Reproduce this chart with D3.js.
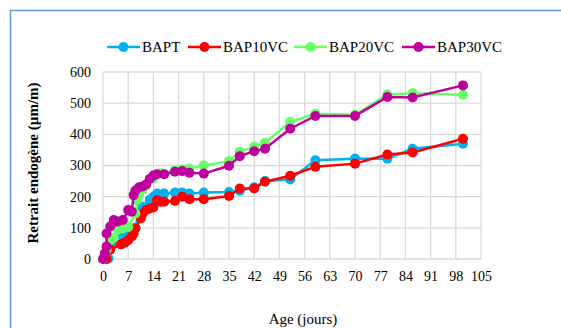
<!DOCTYPE html>
<html>
<head>
<meta charset="utf-8">
<script src="https://cdn.jsdelivr.net/npm/d3@7"></script>
<style>
  body { margin: 0; background: #fff; }
  svg { font-family: "Liberation Serif", "Times New Roman", serif; }
</style>
</head>
<body>
<svg id="chart"></svg>
<script>
const width = 561;
const height = 328;

const seriesNames = ['BAPT', 'BAP10VC', 'BAP20VC', 'BAP30VC'];
const seriesColors = ['#00b0f0', '#ff0000', '#66ff66', '#c0009c'];

const xTicks = [0, 7, 14, 21, 28, 35, 42, 49, 56, 63, 70, 77, 84, 91, 98, 105];
const yTicks = [0, 100, 200, 300, 400, 500, 600];

// [age en jours, retrait µm/m]
const bapt = [[1, 0], [1.5, 2], [3, 50], [5, 78], [7, 88], [8, 92], [9, 100], [10, 150], [11, 168],
  [13, 190], [14, 200], [15, 210], [17, 210], [20, 213], [22, 213], [24, 210], [28, 213],
  [35, 215], [38, 219], [42, 230], [45, 250], [52, 255], [59, 317], [70, 322], [79, 322],
  [86, 354], [100, 370]];
const bap10vc = [[1, 0], [2, 30], [5, 47], [6, 52], [7, 60], [8, 72], [8.5, 82], [9, 98], [10.5, 130],
  [11, 146], [12, 157], [13, 162], [14, 165], [15, 189], [16, 184], [17, 184], [20, 186],
  [22, 200], [24, 192], [28, 192], [35, 202], [38, 226], [42, 226], [45, 248], [52, 267],
  [59, 296], [70, 306], [79, 335], [86, 342], [100, 386]];
const bap20vc = [[0, 0], [1, 30], [2, 60], [3, 68], [4, 93], [5.5, 98], [7, 103], [9, 146], [9.5, 189],
  [10, 205], [11, 222], [12, 235], [14, 258], [16, 275], [20, 285], [22, 288], [24, 290],
  [28, 300], [35, 314], [38, 344], [42, 360], [45, 373], [52, 440], [59, 466], [70, 463],
  [79, 528], [86, 532], [100, 527]];
const bap30vc = [[0, 0], [0.5, 18], [1, 40], [1, 82], [2, 104], [3, 125], [4, 120], [5.5, 125],
  [7, 157], [8, 152], [8.5, 205], [9, 220], [10, 230], [11, 233], [12, 240], [13, 257],
  [14, 268], [15, 272], [17, 272], [20, 280], [22, 282], [24, 277], [28, 274], [35, 299],
  [38, 330], [42, 346], [45, 354], [52, 418], [59, 459], [70, 459], [79, 520], [86, 518],
  [100, 557]];

const allSeries = [bapt, bap10vc, bap20vc, bap30vc];

const svg = d3.select('#chart').attr('width', width).attr('height', height);

// cadre bleu
svg.append('rect')
  .attr('x', 10.5).attr('y', 10.5)
  .attr('width', width + 20).attr('height', height + 20)
  .attr('fill', 'none').attr('stroke', '#5b9bd5').attr('stroke-width', 1.5);

const x = d3.scaleLinear().domain([0, 105]).range([103, 481]);
const y = d3.scaleLinear().domain([0, 600]).range([259, 72]);

// grille
const grid = svg.append('g');
grid.selectAll('.vx').data(xTicks).enter().append('line')
  .attr('x1', d => x(d)).attr('x2', d => x(d))
  .attr('y1', y(0)).attr('y2', y(600))
  .attr('stroke', '#d9d9d9').attr('stroke-width', 1.3);
grid.selectAll('.hy').data(yTicks).enter().append('line')
  .attr('x1', x(0)).attr('x2', x(105))
  .attr('y1', d => y(d)).attr('y2', d => y(d))
  .attr('stroke', '#d9d9d9').attr('stroke-width', 1.3);

// axes
const xAxis = svg.append('g').attr('transform', `translate(0, ${y(0)})`)
  .call(d3.axisBottom(x).tickValues(xTicks).tickSize(0).tickPadding(12));
const yAxis = svg.append('g').attr('transform', `translate(${x(0)}, 0)`)
  .call(d3.axisLeft(y).tickValues(yTicks).tickSize(0).tickPadding(12));
[xAxis, yAxis].forEach(a => {
  a.select('.domain').remove();
  a.selectAll('text').attr('font-family', '"Liberation Serif", serif')
    .attr('font-size', 14).attr('fill', '#000');
});

// séries
const line = d3.line().x(d => x(d[0])).y(d => y(d[1]));
allSeries.forEach((s, i) => {
  const g = svg.append('g');
  g.append('path').datum(s)
    .attr('fill', 'none').attr('stroke', seriesColors[i])
    .attr('stroke-width', 2.5).attr('d', line);
  g.selectAll('circle').data(s).enter().append('circle')
    .attr('cx', d => x(d[0])).attr('cy', d => y(d[1]))
    .attr('r', 5).attr('fill', seriesColors[i]);
});

// légende
const legendX = [107, 188, 294, 402];
const legend = svg.append('g');
seriesNames.forEach((name, i) => {
  const lg = legend.append('g').attr('transform', `translate(${legendX[i]}, 47)`);
  lg.append('line').attr('x1', 0).attr('x2', 33).attr('y1', 0).attr('y2', 0)
    .attr('stroke', seriesColors[i]).attr('stroke-width', 2.5);
  lg.append('circle').attr('cx', 16.5).attr('cy', 0).attr('r', 5).attr('fill', seriesColors[i]);
  lg.append('text').attr('x', 35).attr('y', 5)
    .attr('font-size', 15).attr('fill', '#000').text(name);
});

// titres
svg.append('text')
  .attr('transform', 'translate(38, 163) rotate(-90)')
  .attr('text-anchor', 'middle').attr('font-size', 15).attr('font-weight', 'bold')
  .attr('fill', '#000').text('Retrait endogène (µm/m)');
svg.append('text')
  .attr('x', 303).attr('y', 324)
  .attr('text-anchor', 'middle').attr('font-size', 15)
  .attr('fill', '#000').text('Age (jours)');
</script>
</body>
</html>
